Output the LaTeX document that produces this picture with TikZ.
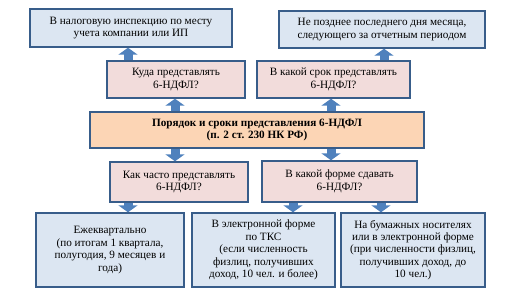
\documentclass[tikz,border=0pt]{standalone}
\usepackage{fontspec}
\setmainfont{Liberation Serif}
\usetikzlibrary{arrows.meta}
\definecolor{bfill}{HTML}{DCE6F2}
\definecolor{pfill}{HTML}{F2DCDB}
\definecolor{ofill}{HTML}{FCD5B5}
\definecolor{bord}{HTML}{385D8A}
\definecolor{arr}{HTML}{4F81BD}
\begin{document}
\begin{tikzpicture}[x=1pt,y=-1pt,
  box/.style={draw=bord,line width=1.4pt,align=center,inner sep=2pt,
    font=\fontsize{11.2}{12.4}\selectfont},
  bluebox/.style={box,fill=bfill},
  pinkbox/.style={box,fill=pfill},
  orbox/.style={box,fill=ofill,font=\fontsize{11.2}{12.4}\selectfont\bfseries},
  barrow/.style={draw=arr,line width=9pt,-{Triangle[width=19pt,length=7pt]}}]
\useasboundingbox (0,0) rectangle (516,290);
\node[bluebox,minimum width=202pt,minimum height=38pt] (tl) at (131,28)
  {В налоговую инспекцию по месту\\учета компании или ИП};
\node[bluebox,minimum width=206pt,minimum height=37pt] (tr) at (382,29.5)
  {Не позднее последнего дня месяца,\\следующего за отчетным периодом};
\node[pinkbox,minimum width=138pt,minimum height=37pt] (pl1) at (176,79.5)
  {Куда представлять\\6-НДФЛ?};
\node[pinkbox,minimum width=153pt,minimum height=37pt] (pr1) at (333.5,79.5)
  {В какой срок представлять\\6-НДФЛ?};
\node[orbox,minimum width=334pt,minimum height=36pt] (or) at (257,130)
  {Порядок и сроки представления 6-НДФЛ\\(п. 2 ст. 230 НК РФ)};
\node[pinkbox,minimum width=138pt,minimum height=40pt] (pl2) at (179,182)
  {Как часто представлять\\6-НДФЛ?};
\node[pinkbox,minimum width=155pt,minimum height=41pt] (pr2) at (339.5,181.5)
  {В какой форме сдавать\\6-НДФЛ?};
\node[bluebox,minimum width=148pt,minimum height=74pt] (b1) at (110,250)
  {Ежеквартально\\(по итогам 1 квартала,\\полугодия, 9 месяцев и\\года)};
\node[bluebox,minimum width=143pt,minimum height=74pt] (b2) at (263.5,250)
  {В электронной форме\\по ТКС\\(если численность\\физлиц, получивших\\доход, 10 чел. и более)};
\node[bluebox,minimum width=144pt,minimum height=74pt] (b3) at (413,250)
  {На бумажных носителях\\или в электронной форме\\(при численности физлиц,\\получивших доход, до\\10 чел.)};
\draw[barrow] (pl1.north -| 128,0) -- (tl.south -| 128,0);
\draw[barrow] (pr1.north -| 384,0) -- (tr.south -| 384,0);
\draw[barrow] (or.north -| 175,0) -- (pl1.south -| 175,0);
\draw[barrow] (or.north -| 331,0) -- (pr1.south -| 331,0);
\draw[barrow] (or.south -| 175,0) -- (pl2.north -| 175,0);
\draw[barrow] (or.south -| 331,0) -- (pr2.north -| 331,0);
\draw[barrow] (pl2.south -| 128,0) -- (b1.north -| 128,0);
\draw[barrow] (pr2.south -| 293,0) -- (b2.north -| 293,0);
\draw[barrow] (pr2.south -| 381,0) -- (b3.north -| 381,0);
\end{tikzpicture}
\end{document}
